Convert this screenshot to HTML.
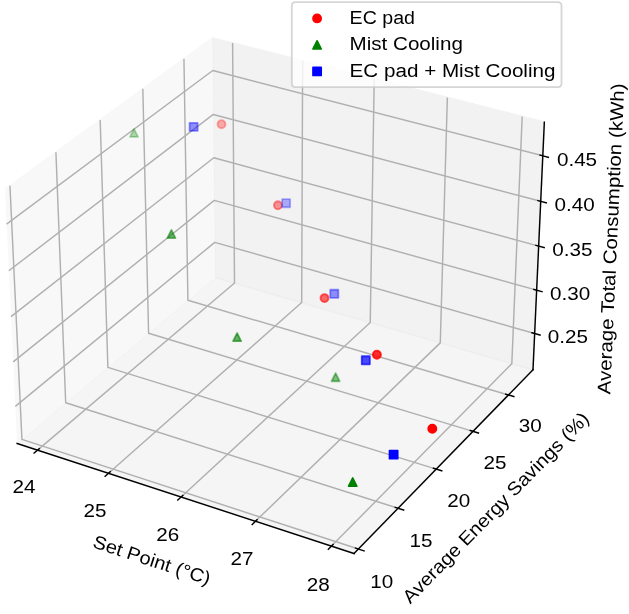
<!DOCTYPE html>
<html><head><meta charset="utf-8"><style>html,body{margin:0;padding:0;background:#fff;overflow:hidden}svg{display:block;will-change:transform}</style></head><body>
<svg width="629" height="614" viewBox="0 0 348.369231 340.061538" version="1.1">
 
 <defs>
  <style type="text/css">*{stroke-linejoin: round; stroke-linecap: butt}</style>
 </defs>
 <g id="figure_1">
  <g id="patch_1">
   <path d="M 0 340.061538 
L 348.369231 340.061538 
L 348.369231 0 
L 0 0 
z
" style="fill: #ffffff"/>
  </g>
  <g id="patch_2">
   <path d="M -15.60024 327.505823 
L 316.57422 327.505823 
L 316.57422 -4.668638 
L -15.60024 -4.668638 
z
" style="fill: #ffffff"/>
  </g>
  <g id="pane3d_1">
   <g id="patch_3">
    <path d="M 9.481222 245.602247 
L 119.176078 153.653844 
L 117.651214 21.04781 
L 2.706894 104.928939 
" style="fill: #f2f2f2; opacity: 0.5; stroke: #f2f2f2; stroke-linejoin: miter"/>
   </g>
  </g>
  <g id="pane3d_2">
   <g id="patch_4">
    <path d="M 119.176078 153.653844 
L 295.197181 204.816229 
L 301.478754 67.642732 
L 117.651214 21.04781 
" style="fill: #e6e6e6; opacity: 0.5; stroke: #e6e6e6; stroke-linejoin: miter"/>
   </g>
  </g>
  <g id="pane3d_3">
   <g id="patch_5">
    <path d="M 9.481222 245.602247 
L 196.072189 306.542856 
L 295.197181 204.816229 
L 119.176078 153.653844 
" style="fill: #ececec; opacity: 0.5; stroke: #ececec; stroke-linejoin: miter"/>
   </g>
  </g>
  <g id="grid3d_1">
   <g id="Line3DCollection_1">
    <path d="M 20.793457 249.296823 
L 129.89185 156.768496 
L 128.820059 23.878786 
" style="fill: none; stroke: #b0b0b0; stroke-width: 0.8"/>
    <path d="M 60.103158 262.135371 
L 167.084213 167.578847 
L 167.60721 33.710199 
" style="fill: none; stroke: #b0b0b0; stroke-width: 0.8"/>
    <path d="M 100.317154 275.269262 
L 205.060566 178.617074 
L 207.247672 43.7579 
" style="fill: none; stroke: #b0b0b0; stroke-width: 0.8"/>
    <path d="M 141.467013 288.708806 
L 243.845962 189.890457 
L 247.769917 54.029108 
" style="fill: none; stroke: #b0b0b0; stroke-width: 0.8"/>
    <path d="M 183.585789 302.464798 
L 283.466533 201.406593 
L 289.203698 64.531364 
" style="fill: none; stroke: #b0b0b0; stroke-width: 0.8"/>
   </g>
  </g>
  <g id="grid3d_2">
   <g id="Line3DCollection_2">
    <path d="M 5.515319 102.879479 
L 12.151476 243.363987 
L 198.495561 304.05588 
" style="fill: none; stroke: #b0b0b0; stroke-width: 0.8"/>
    <path d="M 30.97223 84.302185 
L 36.378525 223.056394 
L 220.458838 281.516155 
" style="fill: none; stroke: #b0b0b0; stroke-width: 0.8"/>
    <path d="M 55.484415 66.414308 
L 59.744992 203.470158 
L 241.60136 259.818726 
" style="fill: none; stroke: #b0b0b0; stroke-width: 0.8"/>
    <path d="M 79.103507 49.178171 
L 82.29593 184.567514 
L 261.968291 238.917245 
" style="fill: none; stroke: #b0b0b0; stroke-width: 0.8"/>
    <path d="M 101.877441 32.558791 
L 104.073303 166.313289 
L 281.601539 218.768702 
" style="fill: none; stroke: #b0b0b0; stroke-width: 0.8"/>
   </g>
  </g>
  <g id="grid3d_3">
   <g id="Line3DCollection_3">
    <path d="M 296.116518 184.740248 
L 118.952504 134.211332 
L 8.491194 225.043668 
" style="fill: none; stroke: #b0b0b0; stroke-width: 0.8"/>
    <path d="M 297.21714 160.705477 
L 118.685026 110.950751 
L 7.305299 200.417794 
" style="fill: none; stroke: #b0b0b0; stroke-width: 0.8"/>
    <path d="M 298.335063 136.292912 
L 118.413546 87.342161 
L 6.100046 175.389939 
" style="fill: none; stroke: #b0b0b0; stroke-width: 0.8"/>
    <path d="M 299.470696 111.493573 
L 118.137974 63.377691 
L 4.874958 149.950179 
" style="fill: none; stroke: #b0b0b0; stroke-width: 0.8"/>
    <path d="M 300.624466 86.298196 
L 117.858216 39.049235 
L 3.629539 124.088261 
" style="fill: none; stroke: #b0b0b0; stroke-width: 0.8"/>
   </g>
  </g>
  <g id="axis3d_1">
   <g id="line2d_1">
    <path d="M 9.481222 245.602247 
L 196.072189 306.542856 
" style="fill: none; stroke: #000000; stroke-width: 0.8; stroke-linecap: square"/>
   </g>
   <g id="xtick_1">
    <g id="line2d_2">
     <path d="M 21.74348 248.491091 
L 18.889335 250.911743 
" style="fill: none; stroke: #000000; stroke-width: 0.8; stroke-linecap: square"/>
    </g>
    <g id="text_1">
     <text style="font-size: 10.300px; font-family: 'Liberation Sans', sans-serif; text-anchor: middle" x="13.269979" y="273.0144" transform="rotate(-0 13.269979 272.594428)" textLength="12.725" lengthAdjust="spacingAndGlyphs">24</text>
    </g>
   </g>
   <g id="xtick_2">
    <g id="line2d_3">
     <path d="M 61.035604 261.311217 
L 58.23422 263.787255 
" style="fill: none; stroke: #000000; stroke-width: 0.8; stroke-linecap: square"/>
    </g>
    <g id="text_2">
     <text style="font-size: 10.300px; font-family: 'Liberation Sans', sans-serif; text-anchor: middle" x="52.612181" y="286.0707" transform="rotate(-0 52.612181 285.650675)" textLength="12.725" lengthAdjust="spacingAndGlyphs">25</text>
    </g>
   </g>
   <g id="xtick_3">
    <g id="line2d_4">
     <path d="M 101.230959 274.426047 
L 98.485534 276.959393 
" style="fill: none; stroke: #000000; stroke-width: 0.8; stroke-linecap: square"/>
    </g>
    <g id="text_3">
     <text style="font-size: 10.300px; font-family: 'Liberation Sans', sans-serif; text-anchor: middle" x="92.862182" y="299.4282" transform="rotate(-0 92.862182 299.008188)" textLength="12.725" lengthAdjust="spacingAndGlyphs">26</text>
    </g>
   </g>
   <g id="xtick_4">
    <g id="line2d_5">
     <path d="M 142.361052 287.845861 
L 139.674966 290.438528 
" style="fill: none; stroke: #000000; stroke-width: 0.8; stroke-linecap: square"/>
    </g>
    <g id="text_4">
     <text style="font-size: 10.300px; font-family: 'Liberation Sans', sans-serif; text-anchor: middle" x="134.051768" y="313.0975" transform="rotate(-0 134.051768 312.677515)" textLength="12.725" lengthAdjust="spacingAndGlyphs">27</text>
    </g>
   </g>
   <g id="xtick_5">
    <g id="line2d_6">
     <path d="M 184.458873 301.581422 
L 181.835699 304.235519 
" style="fill: none; stroke: #000000; stroke-width: 0.8; stroke-linecap: square"/>
    </g>
    <g id="text_5">
     <text style="font-size: 10.300px; font-family: 'Liberation Sans', sans-serif; text-anchor: middle" x="176.214229" y="327.0897" transform="rotate(-0 176.214229 326.669704)" textLength="12.725" lengthAdjust="spacingAndGlyphs">28</text>
    </g>
   </g>
   <g id="text_6">
    <text style="font-size: 10.300px; font-family: 'Liberation Sans', sans-serif; text-anchor: middle" x="83.195885" y="313.5262" transform="rotate(-341.912962 83.195885 313.106156)" textLength="67.749" lengthAdjust="spacingAndGlyphs">Set Point (°C)</text>
   </g>
  </g>
  <g id="axis3d_2">
   <g id="line2d_7">
    <path d="M 295.197181 204.816229 
L 196.072189 306.542856 
" style="fill: none; stroke: #000000; stroke-width: 0.8; stroke-linecap: square"/>
   </g>
   <g id="xtick_6">
    <g id="line2d_8">
     <path d="M 196.924927 303.544327 
L 201.640907 305.080313 
" style="fill: none; stroke: #000000; stroke-width: 0.8; stroke-linecap: square"/>
    </g>
    <g id="text_7">
     <text style="font-size: 10.300px; font-family: 'Liberation Sans', sans-serif; text-anchor: middle" x="211.422262" y="325.5500" transform="rotate(-0 211.422262 325.130034)" textLength="12.725" lengthAdjust="spacingAndGlyphs">10</text>
    </g>
   </g>
   <g id="xtick_7">
    <g id="line2d_9">
     <path d="M 218.908786 281.023893 
L 223.562889 282.501932 
" style="fill: none; stroke: #000000; stroke-width: 0.8; stroke-linecap: square"/>
    </g>
    <g id="text_8">
     <text style="font-size: 10.300px; font-family: 'Liberation Sans', sans-serif; text-anchor: middle" x="233.149666" y="302.7430" transform="rotate(-0 233.149666 302.322959)" textLength="12.725" lengthAdjust="spacingAndGlyphs">15</text>
    </g>
   </g>
   <g id="xtick_8">
    <g id="line2d_10">
     <path d="M 240.071464 259.344684 
L 244.664977 260.767994 
" style="fill: none; stroke: #000000; stroke-width: 0.8; stroke-linecap: square"/>
    </g>
    <g id="text_9">
     <text style="font-size: 10.300px; font-family: 'Liberation Sans', sans-serif; text-anchor: middle" x="254.064753" y="280.7886" transform="rotate(-0 254.064753 280.368565)" textLength="12.725" lengthAdjust="spacingAndGlyphs">20</text>
    </g>
   </g>
   <g id="xtick_9">
    <g id="line2d_11">
     <path d="M 260.458127 238.46043 
L 264.992324 239.831995 
" style="fill: none; stroke: #000000; stroke-width: 0.8; stroke-linecap: square"/>
    </g>
    <g id="text_10">
     <text style="font-size: 10.300px; font-family: 'Liberation Sans', sans-serif; text-anchor: middle" x="274.212243" y="259.6399" transform="rotate(-0 274.212243 259.219911)" textLength="12.725" lengthAdjust="spacingAndGlyphs">25</text>
    </g>
   </g>
   <g id="xtick_10">
    <g id="line2d_12">
     <path d="M 280.110692 218.328192 
L 284.586826 219.650784 
" style="fill: none; stroke: #000000; stroke-width: 0.8; stroke-linecap: square"/>
    </g>
    <g id="text_11">
     <text style="font-size: 10.300px; font-family: 'Liberation Sans', sans-serif; text-anchor: middle" x="293.633631" y="239.2534" transform="rotate(-0 293.633631 238.833441)" textLength="12.725" lengthAdjust="spacingAndGlyphs">30</text>
    </g>
   </g>
   <g id="text_12">
    <text style="font-size: 10.300px; font-family: 'Liberation Sans', sans-serif; text-anchor: middle" x="276.793767" y="283.7520" transform="rotate(-45.742112 276.793767 283.332031)" textLength="142.744" lengthAdjust="spacingAndGlyphs">Average Energy Savings (%)</text>
   </g>
  </g>
  <g id="axis3d_3">
   <g id="line2d_13">
    <path d="M 295.197181 204.816229 
L 301.478754 67.642732 
" style="fill: none; stroke: #000000; stroke-width: 0.8; stroke-linecap: square"/>
   </g>
   <g id="xtick_11">
    <g id="line2d_14">
     <path d="M 294.629168 184.316042 
L 299.094779 185.589678 
" style="fill: none; stroke: #000000; stroke-width: 0.8; stroke-linecap: square"/>
    </g>
    <g id="text_13">
     <text style="font-size: 10.300px; font-family: 'Liberation Sans', sans-serif; text-anchor: middle" x="314.493247" y="190.1837" transform="rotate(-0 314.493247 189.763652)" textLength="22.266" lengthAdjust="spacingAndGlyphs">0.25</text>
    </g>
   </g>
   <g id="xtick_12">
    <g id="line2d_15">
     <path d="M 295.717754 160.287617 
L 300.21953 161.542207 
" style="fill: none; stroke: #000000; stroke-width: 0.8; stroke-linecap: square"/>
    </g>
    <g id="text_14">
     <text style="font-size: 10.300px; font-family: 'Liberation Sans', sans-serif; text-anchor: middle" x="315.734139" y="166.1874" transform="rotate(-0 315.734139 165.767444)" textLength="22.266" lengthAdjust="spacingAndGlyphs">0.30</text>
    </g>
   </g>
   <g id="xtick_13">
    <g id="line2d_16">
     <path d="M 296.823445 135.88165 
L 301.361974 137.116435 
" style="fill: none; stroke: #000000; stroke-width: 0.8; stroke-linecap: square"/>
    </g>
    <g id="text_15">
     <text style="font-size: 10.300px; font-family: 'Liberation Sans', sans-serif; text-anchor: middle" x="316.994489" y="141.8150" transform="rotate(-0 316.994489 141.394974)" textLength="22.266" lengthAdjust="spacingAndGlyphs">0.35</text>
    </g>
   </g>
   <g id="xtick_14">
    <g id="line2d_17">
     <path d="M 297.946646 111.089172 
L 302.522533 112.303365 
" style="fill: none; stroke: #000000; stroke-width: 0.8; stroke-linecap: square"/>
    </g>
    <g id="text_16">
     <text style="font-size: 10.300px; font-family: 'Liberation Sans', sans-serif; text-anchor: middle" x="318.274756" y="117.0573" transform="rotate(-0 318.274756 116.637323)" textLength="22.266" lengthAdjust="spacingAndGlyphs">0.40</text>
    </g>
   </g>
   <g id="xtick_15">
    <g id="line2d_18">
     <path d="M 299.087776 85.900929 
L 303.701641 87.093712 
" style="fill: none; stroke: #000000; stroke-width: 0.8; stroke-linecap: square"/>
    </g>
    <g id="text_17">
     <text style="font-size: 10.300px; font-family: 'Liberation Sans', sans-serif; text-anchor: middle" x="319.575419" y="91.9053" transform="rotate(-0 319.575419 91.485287)" textLength="22.266" lengthAdjust="spacingAndGlyphs">0.45</text>
    </g>
   </g>
   <g id="text_18">
    <text style="font-size: 10.300px; font-family: 'Liberation Sans', sans-serif; text-anchor: middle" x="341.454807" y="132.8618" transform="rotate(-87.378092 341.454807 132.44183)" textLength="172.290" lengthAdjust="spacingAndGlyphs">Average Total Consumption (kWh)</text>
   </g>
  </g>
  <g id="axes_1">
   <g id="Path3DCollection_1">
    <defs>
     <path id="C0_0_cad2daf749" d="M 0 2.236068 
C 0.593012 2.236068 1.161816 2.000462 1.581139 1.581139 
C 2.000462 1.161816 2.236068 0.593012 2.236068 -0 
C 2.236068 -0.593012 2.000462 -1.161816 1.581139 -1.581139 
C 1.161816 -2.000462 0.593012 -2.236068 0 -2.236068 
C -0.593012 -2.236068 -1.161816 -2.000462 -1.581139 -1.581139 
C -2.000462 -1.161816 -2.236068 -0.593012 -2.236068 0 
C -2.236068 0.593012 -2.000462 1.161816 -1.581139 1.581139 
C -1.161816 2.000462 -0.593012 2.236068 0 2.236068 
z
"/>
    </defs>
    <g clip-path="url(#p16bfc54ade)">
     <use href="#C0_0_cad2daf749" x="122.676923" y="68.787692" style="fill: #ff0000; fill-opacity: 0.3; stroke: #ff0000; stroke-opacity: 0.3"/>
    </g>
    <g clip-path="url(#p16bfc54ade)">
     <use href="#C0_0_cad2daf749" x="153.913846" y="113.704615" style="fill: #ff0000; fill-opacity: 0.403167; stroke: #ff0000; stroke-opacity: 0.403167"/>
    </g>
    <g clip-path="url(#p16bfc54ade)">
     <use href="#C0_0_cad2daf749" x="179.723077" y="165.101538" style="fill: #ff0000; fill-opacity: 0.574547; stroke: #ff0000; stroke-opacity: 0.574547"/>
    </g>
    <g clip-path="url(#p16bfc54ade)">
     <use href="#C0_0_cad2daf749" x="208.744615" y="196.449231" style="fill: #ff0000; fill-opacity: 0.810802; stroke: #ff0000; stroke-opacity: 0.810802"/>
    </g>
    <g clip-path="url(#p16bfc54ade)">
     <use href="#C0_0_cad2daf749" x="239.427692" y="237.433846" style="fill: #ff0000; stroke: #ff0000"/>
    </g>
   </g>
   <g id="Path3DCollection_2">
    <path d="M 156.219317 114.777606 
L 160.691453 114.777606 
L 160.691453 110.30547 
L 156.219317 110.30547 
z
" clip-path="url(#p16bfc54ade)" style="fill: #0000ff; fill-opacity: 0.3; stroke: #0000ff; stroke-opacity: 0.3"/>
    <path d="M 182.914701 164.956068 
L 187.386837 164.956068 
L 187.386837 160.483932 
L 182.914701 160.483932 
z
" clip-path="url(#p16bfc54ade)" style="fill: #0000ff; fill-opacity: 0.415214; stroke: #0000ff; stroke-opacity: 0.415214"/>
    <path d="M 104.988547 72.519145 
L 109.460683 72.519145 
L 109.460683 68.047009 
L 104.988547 68.047009 
z
" clip-path="url(#p16bfc54ade)" style="fill: #0000ff; fill-opacity: 0.422736; stroke: #0000ff; stroke-opacity: 0.422736"/>
    <path d="M 200.360855 201.786837 
L 204.832991 201.786837 
L 204.832991 197.314701 
L 200.360855 197.314701 
z
" clip-path="url(#p16bfc54ade)" style="fill: #0000ff; fill-opacity: 0.703422; stroke: #0000ff; stroke-opacity: 0.703422"/>
    <path d="M 215.757778 254.01453 
L 220.229914 254.01453 
L 220.229914 249.542394 
L 215.757778 249.542394 
z
" clip-path="url(#p16bfc54ade)" style="fill: #0000ff; stroke: #0000ff"/>
   </g>
   <g id="Path3DCollection_3">
    <path d="M 74.215385 71.370086 
L 71.979317 75.842222 
L 76.451453 75.842222 
z
" clip-path="url(#p16bfc54ade)" style="fill: #008000; fill-opacity: 0.3; stroke: #008000; stroke-opacity: 0.3"/>
    <path d="M 185.870769 206.674701 
L 183.634701 211.146837 
L 188.106837 211.146837 
z
" clip-path="url(#p16bfc54ade)" style="fill: #008000; fill-opacity: 0.479531; stroke: #008000; stroke-opacity: 0.479531"/>
    <path d="M 94.929231 127.363932 
L 92.693163 131.836068 
L 97.165299 131.836068 
z
" clip-path="url(#p16bfc54ade)" style="fill: #008000; fill-opacity: 0.558461; stroke: #008000; stroke-opacity: 0.558461"/>
    <path d="M 131.316923 184.46547 
L 129.080855 188.937606 
L 133.552991 188.937606 
z
" clip-path="url(#p16bfc54ade)" style="fill: #008000; fill-opacity: 0.587307; stroke: #008000; stroke-opacity: 0.587307"/>
    <path d="M 195.341538 264.773163 
L 193.10547 269.245299 
L 197.577606 269.245299 
z
" clip-path="url(#p16bfc54ade)" style="fill: #008000; stroke: #008000"/>
   </g>
   <g id="legend_1">
    <g id="patch_6">
     <path d="M 163.612308 48.252837 
L 308.984615 48.252837 
Q 310.984615 48.252837 310.984615 46.252837 
L 310.984615 3.218462 
Q 310.984615 1.218462 308.984615 1.218462 
L 163.612308 1.218462 
Q 161.612308 1.218462 161.612308 3.218462 
L 161.612308 46.252837 
Q 161.612308 48.252837 163.612308 48.252837 
z
" style="fill: #ffffff; opacity: 0.8; stroke: #cccccc; stroke-linejoin: miter"/>
    </g>
    <g id="Path3DCollection_4">
     <defs>
      <path id="mc27e22678c" d="M 0 2.236068 
C 0.593012 2.236068 1.161816 2.000462 1.581139 1.581139 
C 2.000462 1.161816 2.236068 0.593012 2.236068 0 
C 2.236068 -0.593012 2.000462 -1.161816 1.581139 -1.581139 
C 1.161816 -2.000462 0.593012 -2.236068 0 -2.236068 
C -0.593012 -2.236068 -1.161816 -2.000462 -1.581139 -1.581139 
C -2.000462 -1.161816 -2.236068 -0.593012 -2.236068 0 
C -2.236068 0.593012 -2.000462 1.161816 -1.581139 1.581139 
C -1.161816 2.000462 -0.593012 2.236068 0 2.236068 
z
" style="stroke: #ff0000"/>
     </defs>
     <g>
      <use href="#mc27e22678c" x="175.6174" y="10.191899" style="fill: #ff0000; stroke: #ff0000"/>
     </g>
    </g>
    <g id="text_19">
     <text style="font-size: 10.300px; font-family: 'Liberation Sans', sans-serif; text-anchor: start" x="193.6174" y="13.2369" textLength="36.199" lengthAdjust="spacingAndGlyphs">EC pad</text>
    </g>
    <g id="Path3DCollection_5">
     <defs>
      <path id="m0d95c268b7" d="M 0 -2.236068 
L -2.236068 2.236068 
L 2.236068 2.236068 
z
" style="stroke: #008000"/>
     </defs>
     <g>
      <use href="#m0d95c268b7" x="175.6174" y="24.870024" style="fill: #008000; stroke: #008000"/>
     </g>
    </g>
    <g id="text_20">
     <text style="font-size: 10.300px; font-family: 'Liberation Sans', sans-serif; text-anchor: start" x="193.6174" y="27.9150" textLength="62.731" lengthAdjust="spacingAndGlyphs">Mist Cooling</text>
    </g>
    <g id="Path3DCollection_6">
     <defs>
      <path id="m3a1a157603" d="M -2.236068 2.236068 
L 2.236068 2.236068 
L 2.236068 -2.236068 
L -2.236068 -2.236068 
z
" style="stroke: #0000ff"/>
     </defs>
     <g>
      <use href="#m3a1a157603" x="175.6174" y="39.548149" style="fill: #0000ff; stroke: #0000ff"/>
     </g>
    </g>
    <g id="text_21">
     <text style="font-size: 10.300px; font-family: 'Liberation Sans', sans-serif; text-anchor: start" x="193.6174" y="42.5931" textLength="114.041" lengthAdjust="spacingAndGlyphs">EC pad + Mist Cooling</text>
    </g>
   </g>
  </g>
 </g>
 <defs>
  <clipPath id="p16bfc54ade">
   <rect x="-15.60024" y="-4.668638" width="332.174461" height="332.174461"/>
  </clipPath>
 </defs>
</svg>

</body></html>
